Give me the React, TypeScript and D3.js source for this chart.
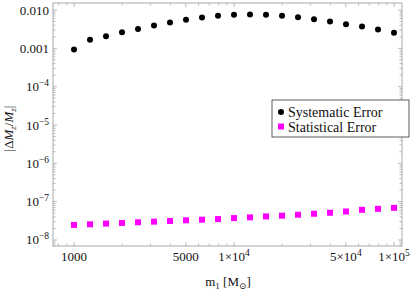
import React from 'react';
import * as d3 from 'd3';

const width = 415;
const height = 294;
const plot = { left: 53, right: 402, top: 3, bottom: 246 };

// m1 values (solar masses), 0.1 dex apart
const masses = [
  1000, 1259, 1585, 1995, 2512, 3162, 3981, 5012, 6310, 7943, 10000,
  12589, 15849, 19953, 25119, 31623, 39811, 50119, 63096, 79433, 100000,
];
const systematicError = [
  0.00093, 0.00167, 0.00208, 0.00261, 0.00319, 0.00393, 0.00472, 0.00553, 0.0064, 0.00706, 0.0075,
  0.00769, 0.0075, 0.00706, 0.00652, 0.00577, 0.00501, 0.00426, 0.0037, 0.00308, 0.00256,
];
const statisticalError = [
  2.47e-8, 2.57e-8, 2.68e-8, 2.78e-8, 2.9e-8, 3.01e-8, 3.13e-8, 3.26e-8, 3.39e-8, 3.52e-8, 3.73e-8,
  3.89e-8, 4.12e-8, 4.3e-8, 4.56e-8, 4.84e-8, 5.13e-8, 5.54e-8, 6.12e-8, 6.5e-8, 6.89e-8,
];

const xTickLabels = [
  { v: 1000, base: '1000', exp: '' },
  { v: 5000, base: '5000', exp: '' },
  { v: 1e4, base: '1\u00d710', exp: '4' },
  { v: 5e4, base: '5\u00d710', exp: '4' },
  { v: 1e5, base: '1\u00d710', exp: '5' },
];
const yTickLabels = [
  { v: 0.01, base: '0.010', exp: '' },
  { v: 0.001, base: '0.001', exp: '' },
  { v: 1e-4, base: '10', exp: '\u22124' },
  { v: 1e-5, base: '10', exp: '\u22125' },
  { v: 1e-6, base: '10', exp: '\u22126' },
  { v: 1e-7, base: '10', exp: '\u22127' },
  { v: 1e-8, base: '10', exp: '\u22128' },
];

const font = '"Liberation Serif", "DejaVu Serif", serif';
const frameColor = '#aaaaaa';

const x = d3.scaleLog().domain([739, 112200]).range([plot.left, plot.right]);
const y = d3.scaleLog().domain([6.97e-9, 0.01524]).range([plot.bottom, plot.top]);

// every integer multiple inside each decade of a domain
const minorTicks = (scale: d3.ScaleLogarithmic<number, number>) => {
  const [lo, hi] = scale.domain();
  const out: number[] = [];
  for (let e = Math.floor(Math.log10(lo)); e <= Math.ceil(Math.log10(hi)); e++) {
    for (let m = 1; m < 10; m++) {
      const v = m * Math.pow(10, e);
      if (v >= lo && v <= hi) out.push(v);
    }
  }
  return out;
};

export default function App() {
  const xMajor = new Set(xTickLabels.map(d => d.v));
  const yMajor = new Set(yTickLabels.map(d => d.v));

  return (
    <svg width={width} height={height} style={{ position: 'absolute', left: 0, top: 0, background: '#fff' }}
      fontFamily={font}>
      {/* frame */}
      <rect x={plot.left} y={plot.top} width={plot.right - plot.left} height={plot.bottom - plot.top}
        fill="none" stroke={frameColor} strokeWidth={1} />

      {/* x ticks, bottom and top */}
      {minorTicks(x).map(v => {
        const len = xMajor.has(v) ? 4 : 2.5;
        const px = x(v);
        return (
          <g key={'x' + v} stroke={frameColor} strokeWidth={0.8}>
            <line x1={px} x2={px} y1={plot.bottom} y2={plot.bottom - len} />
            <line x1={px} x2={px} y1={plot.top} y2={plot.top + len} />
          </g>
        );
      })}
      {/* y ticks, left and right */}
      {minorTicks(y).map(v => {
        const len = yMajor.has(v) ? 4 : 2.5;
        const py = y(v);
        return (
          <g key={'y' + v} stroke={frameColor} strokeWidth={0.8}>
            <line x1={plot.left} x2={plot.left + len} y1={py} y2={py} />
            <line x1={plot.right} x2={plot.right - len} y1={py} y2={py} />
          </g>
        );
      })}

      {/* tick labels */}
      {xTickLabels.map(d => (
        <text key={'xl' + d.v} x={x(d.v)} y={plot.bottom + 15} fontSize={13} textAnchor="middle" fill="#111">
          {d.base}
          {d.exp && <tspan fontSize={9.5} dy={-5}>{d.exp}</tspan>}
        </text>
      ))}
      {yTickLabels.map(d => (
        <text key={'yl' + d.v} x={plot.left - 4} y={y(d.v) + 4.5} fontSize={13} textAnchor="end" fill="#111">
          {d.base}
          {d.exp && <tspan fontSize={9.5} dy={-5}>{d.exp}</tspan>}
        </text>
      ))}

      {/* axis titles */}
      <text x={228} y={286} fontSize={13} textAnchor="middle" fill="#111">
        m<tspan fontSize={9} dy={3}>1</tspan><tspan dy={-3}> [M</tspan>
        <tspan fontSize={9} dy={3}>{'\u2299'}</tspan><tspan dy={-3}>]</tspan>
      </text>
      <text transform={`translate(13,${(plot.top + plot.bottom) / 2 + 4}) rotate(-90)`} fontSize={13}
        textAnchor="middle" fill="#111">
        |{'\u0394'}<tspan fontStyle="italic">M</tspan><tspan fontSize={9} dy={3} fontStyle="italic">z</tspan>
        <tspan dy={-3}>/</tspan><tspan fontStyle="italic">M</tspan>
        <tspan fontSize={9} dy={3} fontStyle="italic">z</tspan><tspan dy={-3}>|</tspan>
      </text>

      {/* data */}
      {masses.map((m, i) => (
        <circle key={'s' + i} cx={x(m)} cy={y(systematicError[i])} r={3} fill="#000" />
      ))}
      {masses.map((m, i) => (
        <rect key={'t' + i} x={x(m) - 3} y={y(statisticalError[i]) - 3} width={6} height={6} fill="#ff00ff" />
      ))}

      {/* legend */}
      <g>
        <rect x={272} y={100} width={137} height={37} fill="#fff" stroke="#333" strokeWidth={0.8} />
        <circle cx={281} cy={112} r={3} fill="#000" />
        <text x={288} y={116.5} fontSize={14} fill="#111">Systematic Error</text>
        <rect x={278} y={123.5} width={6} height={6} fill="#ff00ff" />
        <text x={288} y={131.5} fontSize={14} fill="#111">Statistical Error</text>
      </g>
    </svg>
  );
}
